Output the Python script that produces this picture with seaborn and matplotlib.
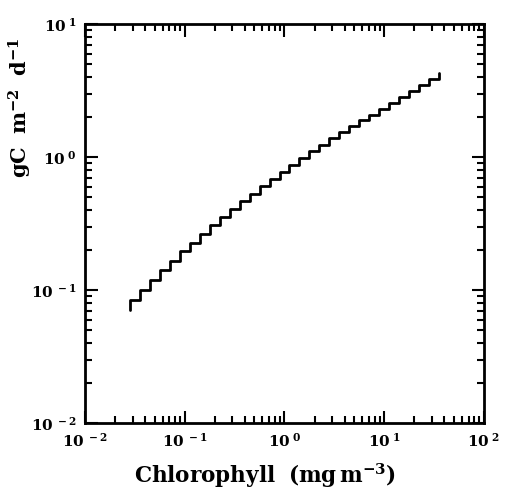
import numpy as np
import pandas as pd
import matplotlib
matplotlib.use("Agg")
import matplotlib.pyplot as plt
import matplotlib.ticker as mticker
import seaborn as sns

# Chlorophyll bin edges (mg m^-3)
chl_edges = [0.0282, 0.0355, 0.0447, 0.0562, 0.0708, 0.0891, 0.112, 0.141,
             0.178, 0.224, 0.282, 0.355, 0.447, 0.562, 0.708, 0.891, 1.12,
             1.41, 1.78, 2.24, 2.82, 3.55, 4.47, 5.62, 7.08, 8.91, 11.2,
             14.1, 17.8, 22.4, 28.2, 35.5]
# Productivity levels (gC m^-2 d^-1): start value, one level per bin, end value
pp_levels = [0.0708, 0.0841, 0.100, 0.119, 0.1406, 0.166, 0.195, 0.2275,
             0.264, 0.3055, 0.352, 0.4046, 0.4634, 0.53, 0.6026, 0.684,
             0.776, 0.877, 0.986, 1.107, 1.239, 1.38, 1.535, 1.702, 1.884,
             2.08, 2.291, 2.541, 2.818, 3.126, 3.467, 3.846, 4.266]

x_ticks = [1e-2, 1e-1, 1e0, 1e1, 1e2]
x_tick_labels = ["-2", "-1", "0", "1", "2"]
y_ticks = [1e-2, 1e-1, 1e0, 1e1]
y_tick_labels = ["-2", "-1", "0", "1"]

sns.set_theme(style="ticks")
plt.rcParams["font.family"] = ["DejaVu Serif"]
plt.rcParams["mathtext.fontset"] = "dejavuserif"
plt.rcParams["text.color"] = "black"
plt.rcParams["axes.labelcolor"] = "black"
plt.rcParams["xtick.color"] = "black"
plt.rcParams["ytick.color"] = "black"

df = pd.DataFrame({"chl": chl_edges + [chl_edges[-1]], "pp": pp_levels})

fig = plt.figure(figsize=(5.06, 4.91), dpi=100)
ax = fig.add_axes([85 / 506, 68 / 491, 399 / 506, 399 / 491])

sns.lineplot(data=df, x="chl", y="pp", estimator=None, sort=False,
             drawstyle="steps-pre", color="black", linewidth=2.0, ax=ax)

ax.set_xscale("log")
ax.set_yscale("log")
ax.set_xlim(1e-2, 1e2)
ax.set_ylim(1e-2, 1e1)

ax.set_xticks(x_ticks)
ax.set_xticklabels([r"$\mathbf{10^{\ %s}}$" % s for s in x_tick_labels])
ax.set_yticks(y_ticks)
ax.set_yticklabels([r"$\mathbf{10^{\ %s}}$" % s for s in y_tick_labels])
ax.xaxis.set_minor_locator(mticker.LogLocator(base=10, subs=np.arange(2, 10)))
ax.yaxis.set_minor_locator(mticker.LogLocator(base=10, subs=np.arange(2, 10)))
ax.xaxis.set_minor_formatter(mticker.NullFormatter())
ax.yaxis.set_minor_formatter(mticker.NullFormatter())

ax.tick_params(which="both", direction="in", top=True, right=True,
               color="black", labelcolor="black", width=1.5)
ax.tick_params(which="major", length=9, labelsize=11, pad=6)
ax.tick_params(which="minor", length=5)

for sp in ax.spines.values():
    sp.set_linewidth(2.0)
    sp.set_color("black")

ax.set_xlabel(r"$\mathbf{Chlorophyll\ \ (mg\,m^{-3})}$", fontsize=15.5,
              color="black")
ax.xaxis.set_label_coords(0.451, -0.096)
ax.xaxis.label.set_va("top")
ax.set_ylabel(r"$\mathbf{gC\ \ m^{-2}\ \ d^{-1}}$", fontsize=15, color="black")
ax.yaxis.set_label_coords(-0.128, 0.79)
ax.grid(False)

fig.savefig("out.png", dpi=100, facecolor="white")
